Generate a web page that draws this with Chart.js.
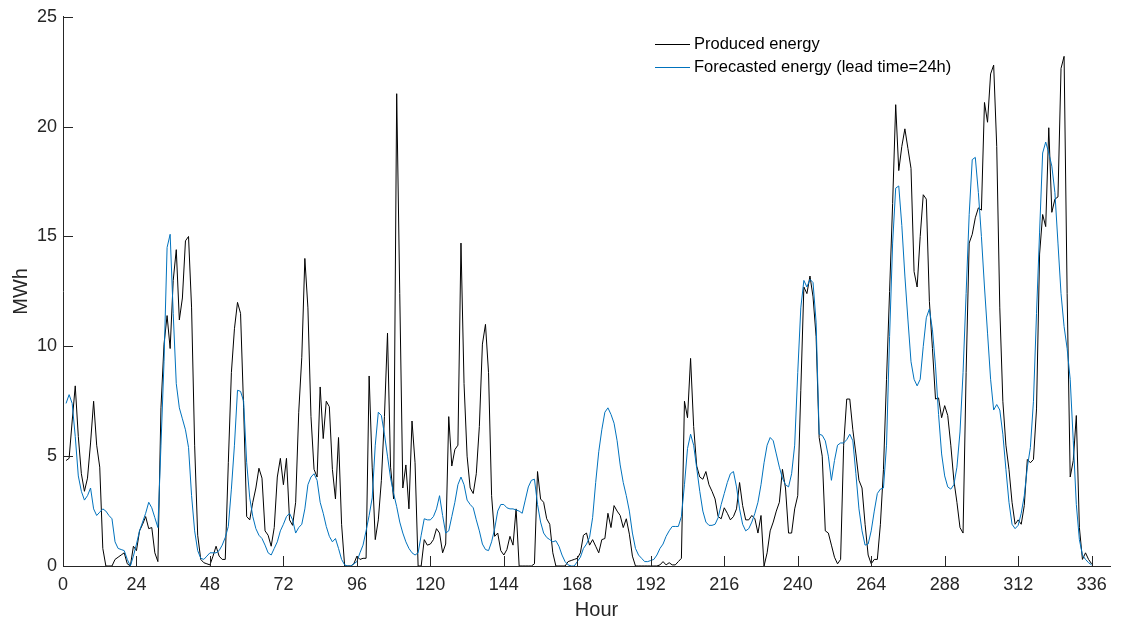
<!DOCTYPE html>
<html>
<head>
<meta charset="utf-8">
<script src="https://cdn.jsdelivr.net/npm/chart.js@4.4.1/dist/chart.umd.min.js"></script>
<style>
  html, body { margin: 0; padding: 0; background: #ffffff; }
  #wrap { width: 1128px; height: 623px; }
</style>
</head>
<body>
<div id="wrap"><canvas id="energy" width="1128" height="623"></canvas></div>
<script>
// Hourly produced energy (MWh), hours 1..336
const produced = [
  4.8, 4.9, 6.6, 8.2, 5.9, 4.2, 3.4, 4.0, 5.6, 7.5, 5.5, 4.5,
  0.8, 0, 0, 0, 0.3, 0.4, 0.5, 0.6, 0.1, 0, 0.9, 0.7,
  1.6, 1.9, 2.25, 1.7, 1.75, 0.6, 0.2, 7.2, 10.1, 11.4, 9.9, 13.0,
  14.4, 11.2, 12.2, 14.8, 15.0, 11.75, 5.5, 1.4, 0.3, 0.15, 0.1, 0.05,
  0.45, 0.9, 0.45, 0.3, 0.3, 4.7, 8.8, 10.8, 12.0, 11.5, 7.2, 2.25,
  2.1, 2.9, 3.55, 4.45, 4.0, 1.6, 1.4, 0.9, 1.75, 4.05, 4.9, 3.7,
  4.9, 2.1, 1.85, 2.9, 7.0, 9.5, 14.0, 11.75, 6.8, 4.4, 4.05, 8.15,
  5.8, 7.5, 7.25, 4.4, 3.05, 5.85, 1.9, 0, 0, 0, 0.1, 0.45,
  0.3, 0.35, 0.35, 8.65, 4.5, 1.2, 2.1, 3.9, 6.8, 10.6, 4.5, 3.05,
  21.5, 12.4, 3.55, 4.6, 2.6, 6.6, 4.7, 0, 0, 1.2, 0.95, 1.0,
  1.2, 1.7, 1.5, 0.6, 1.0, 6.8, 4.55, 5.3, 5.5, 14.7, 8.3, 5.0,
  3.55, 3.3, 4.2, 6.35, 10.1, 11.0, 8.8, 3.2, 1.35, 1.5, 0.7, 0.5,
  0.75, 1.35, 0.95, 2.6, 0, 0, 0, 0, 0, 0.1, 4.3, 3.05,
  2.9, 2.15, 1.9, 0.6, 0, 0, 0, 0, 0.2, 0.25, 0.3, 0.35,
  0.6, 1.4, 1.5, 0.95, 1.2, 0.9, 0.6, 1.2, 1.25, 2.4, 1.75, 2.75,
  2.5, 2.3, 1.75, 2.15, 1.45, 0.45, 0, 0, 0, 0, 0, 0,
  0, 0, 0.05, 0.2, 0.05, 0.15, 0.05, 0.05, 0.2, 0.35, 7.5, 6.75,
  9.45, 6.35, 4.55, 4.05, 3.95, 4.3, 3.7, 3.4, 3.05, 2.25, 2.15, 2.65,
  2.4, 2.1, 2.25, 2.6, 3.8, 2.75, 2.1, 2.1, 2.3, 2.15, 1.5, 2.3,
  0, 0.6, 1.6, 2.0, 2.5, 2.9, 4.4, 3.55, 1.5, 1.5, 2.6, 3.2,
  8.0, 12.7, 12.4, 13.2, 12.25, 10.45, 5.85, 5.0, 1.6, 1.5, 0.95, 0.4,
  0.1, 0.3, 5.5, 7.6, 7.6, 6.2, 5.1, 3.9, 3.55, 1.9, 0.5, 0.1,
  0.3, 0.3, 1.9, 4.4, 8.5, 12.5, 16.5, 21.0, 18.0, 19.1, 19.9, 19.0,
  18.1, 13.4, 12.7, 15.0, 16.9, 16.7, 12.05, 9.9, 7.6, 7.65, 6.75, 7.3,
  6.85, 5.5, 3.9, 2.9, 1.75, 1.5, 8.8, 14.7, 15.1, 15.85, 16.3, 16.2,
  21.1, 20.2, 22.4, 22.8, 19.1, 11.75, 7.5, 5.5, 4.4, 2.9, 1.9, 2.1,
  1.9, 2.75, 4.85, 4.7, 4.85, 7.15, 14.2, 16.0, 15.45, 19.95, 16.1, 16.7,
  16.8, 22.65, 23.2, 12.4, 4.05, 4.8, 6.85, 1.75, 0.3, 0.6, 0.3, 0.1
];

// Day-ahead forecast (lead time 24 h), MWh, hours 1..336
const forecast = [
  7.4, 7.8, 7.4, 5.9, 4.1, 3.4, 3.0, 3.2, 3.55, 2.6, 2.3, 2.45,
  2.6, 2.5, 2.3, 2.15, 1.1, 0.8, 0.75, 0.7, 0.3, 0, 0.45, 1.0,
  1.6, 2.0, 2.4, 2.9, 2.65, 2.2, 1.75, 5.5, 9.3, 14.5, 15.1, 11.5,
  8.3, 7.2, 6.7, 6.2, 5.4, 3.2, 1.6, 0.7, 0.35, 0.3, 0.45, 0.6,
  0.6, 0.6, 0.7, 0.95, 1.3, 1.8, 3.5, 5.5, 8.0, 7.95, 7.5, 4.7,
  3.1, 2.25, 1.7, 1.4, 1.25, 0.95, 0.6, 0.5, 0.8, 1.1, 1.6, 1.9,
  2.25, 2.4, 2.1, 1.5, 1.75, 1.9, 2.6, 3.7, 4.05, 4.2, 3.9, 2.9,
  2.4, 1.8, 1.35, 1.1, 1.25, 0.8, 0.3, 0.05, 0, 0, 0.1, 0.2,
  0.6, 0.95, 1.6, 2.3, 3.1, 5.5, 7.0, 6.85, 6.0, 5.0, 4.0, 3.3,
  2.7, 2.0, 1.5, 1.1, 0.8, 0.6, 0.5, 0.6, 1.4, 2.15, 2.1, 2.1,
  2.25, 2.6, 3.2, 2.3, 1.5, 1.6, 2.25, 2.9, 3.7, 4.05, 3.7, 3.0,
  2.8, 2.65, 2.1, 1.6, 1.0, 0.75, 0.7, 1.1, 1.7, 2.5, 2.8, 2.8,
  2.65, 2.6, 2.6, 2.55, 2.5, 2.4, 3.0, 3.6, 3.9, 3.95, 2.8, 2.0,
  1.5, 1.3, 1.2, 1.1, 1.15, 0.9, 0.5, 0.2, 0.05, 0, 0, 0.2,
  0.4, 0.8, 1.0, 1.3, 2.2, 3.8, 5.2, 6.2, 7.0, 7.2, 6.9, 6.5,
  5.7, 4.6, 3.8, 3.2, 2.5, 1.5, 0.8, 0.5, 0.35, 0.2, 0.2, 0.25,
  0.3, 0.5, 0.8, 1.0, 1.35, 1.6, 1.8, 1.8, 1.8, 2.25, 3.7, 5.35,
  6.0, 5.5, 4.45, 3.4, 2.5, 2.0, 1.85, 1.85, 1.9, 2.2, 2.8, 3.3,
  3.8, 4.2, 4.3, 3.6, 2.6, 1.9, 1.6, 1.7, 2.0, 2.4, 2.9, 3.7,
  4.7, 5.5, 5.85, 5.7, 5.1, 4.5, 4.0, 3.7, 3.6, 4.2, 5.5, 8.8,
  11.75, 13.0, 12.7, 13.05, 12.9, 11.1, 6.0, 5.95, 5.7, 5.0, 3.9, 4.8,
  5.5, 5.6, 5.6, 5.75, 6.0, 5.7, 4.2, 2.6, 1.6, 0.95, 1.0, 1.6,
  2.5, 3.3, 3.5, 3.55, 5.5, 10.45, 14.7, 17.2, 17.3, 15.5, 13.2, 11.2,
  9.3, 8.5, 8.2, 8.5, 10.0, 11.3, 11.7, 10.75, 9.1, 6.9, 5.1, 4.1,
  3.6, 3.5, 3.7, 4.5, 6.1, 8.8, 12.4, 16.0, 18.5, 18.6, 17.0, 15.0,
  12.7, 10.6, 8.5, 7.1, 7.35, 7.1, 6.0, 4.4, 2.9, 1.9, 1.7, 1.85,
  2.4, 3.2, 4.5, 5.4, 7.5, 11.5, 15.2, 18.8, 19.3, 18.8, 18.2, 17.0,
  14.7, 12.4, 10.9, 9.9, 8.5, 5.7, 2.8, 1.2, 0.5, 0.3, 0.15, 0.05
];

const hourTicks = [0, 24, 48, 72, 96, 120, 144, 168, 192, 216, 240, 264, 288, 312, 336];
const mwhTicks = [0, 5, 10, 15, 20, 25];

const seriesNames = ['Produced energy', 'Forecasted energy (lead time=24h)'];
const seriesColors = ['#000000', '#0072BD'];

const AXIS_COLOR = '#262626';
const FONT = '"Liberation Sans", Arial, Helvetica, sans-serif';

const toPoints = arr => arr.map((v, i) => ({ x: i + 1, y: v }));

// Inward tick marks, axis titles and the legend
const decorations = {
  id: 'decorations',
  afterDraw(chart) {
    const { ctx, chartArea, scales } = chart;
    const tickLen = 10;
    ctx.save();
    ctx.strokeStyle = AXIS_COLOR;
    ctx.lineWidth = 1;
    ctx.beginPath();
    scales.x.ticks.forEach(t => {
      const px = Math.round(scales.x.getPixelForValue(t.value)) + 0.5;
      ctx.moveTo(px, chartArea.bottom);
      ctx.lineTo(px, chartArea.bottom - tickLen);
    });
    scales.y.ticks.forEach(t => {
      const py = Math.round(scales.y.getPixelForValue(t.value)) + 0.5;
      ctx.moveTo(chartArea.left, py);
      ctx.lineTo(chartArea.left + tickLen, py);
    });
    ctx.stroke();

    // axis titles
    ctx.fillStyle = AXIS_COLOR;
    ctx.font = '20px ' + FONT;
    ctx.textAlign = 'center';
    ctx.textBaseline = 'middle';
    ctx.fillText('Hour', (chartArea.left + chartArea.right) / 2 + 10, 610);
    ctx.save();
    ctx.translate(21, (chartArea.top + chartArea.bottom) / 2);
    ctx.rotate(-Math.PI / 2);
    ctx.fillText('MWh', 0, 0);
    ctx.restore();

    // legend
    ctx.font = '16.5px ' + FONT;
    ctx.textAlign = 'left';
    ctx.textBaseline = 'middle';
    const lx = 655, ly = 44, gap = 23;
    seriesNames.forEach((name, i) => {
      const y = ly + i * gap + 0.5;
      ctx.strokeStyle = seriesColors[i];
      ctx.beginPath();
      ctx.moveTo(lx, y);
      ctx.lineTo(lx + 35, y);
      ctx.stroke();
      ctx.fillStyle = '#000000';
      ctx.fillText(name, lx + 39, y);
    });
    ctx.restore();
  }
};

new Chart(document.getElementById('energy'), {
  type: 'line',
  data: {
    datasets: [
      {
        label: seriesNames[1],
        data: toPoints(forecast),
        borderColor: seriesColors[1],
        borderWidth: 1,
        pointRadius: 0,
        tension: 0,
        fill: false,
        order: 0
      },
      {
        label: seriesNames[0],
        data: toPoints(produced),
        borderColor: seriesColors[0],
        borderWidth: 1,
        pointRadius: 0,
        tension: 0,
        fill: false,
        order: 1
      }
    ]
  },
  options: {
    responsive: false,
    animation: false,
    devicePixelRatio: 1,
    layout: { padding: { left: 0, right: 18, top: 15, bottom: 0 } },
    plugins: {
      legend: { display: false },
      tooltip: { enabled: false }
    },
    scales: {
      x: {
        type: 'linear',
        min: 0,
        max: 342,
        afterBuildTicks: s => { s.ticks = hourTicks.map(v => ({ value: v })); },
        afterFit: s => { s.height = 57; },
        grid: { display: false, drawTicks: false },
        border: { display: true, color: AXIS_COLOR, width: 1 },
        ticks: {
          autoSkip: false,
          maxRotation: 0,
          padding: 8,
          color: AXIS_COLOR,
          font: { family: FONT, size: 18 },
          callback: v => String(v)
        }
      },
      y: {
        type: 'linear',
        min: 0,
        max: 25,
        afterBuildTicks: s => { s.ticks = mwhTicks.map(v => ({ value: v })); },
        afterFit: s => { s.width = 63; },
        grid: { display: false, drawTicks: false },
        border: { display: true, color: AXIS_COLOR, width: 1 },
        ticks: {
          padding: 6,
          color: AXIS_COLOR,
          font: { family: FONT, size: 18 },
          callback: v => String(v)
        }
      }
    }
  },
  plugins: [decorations]
});
</script>
</body>
</html>
